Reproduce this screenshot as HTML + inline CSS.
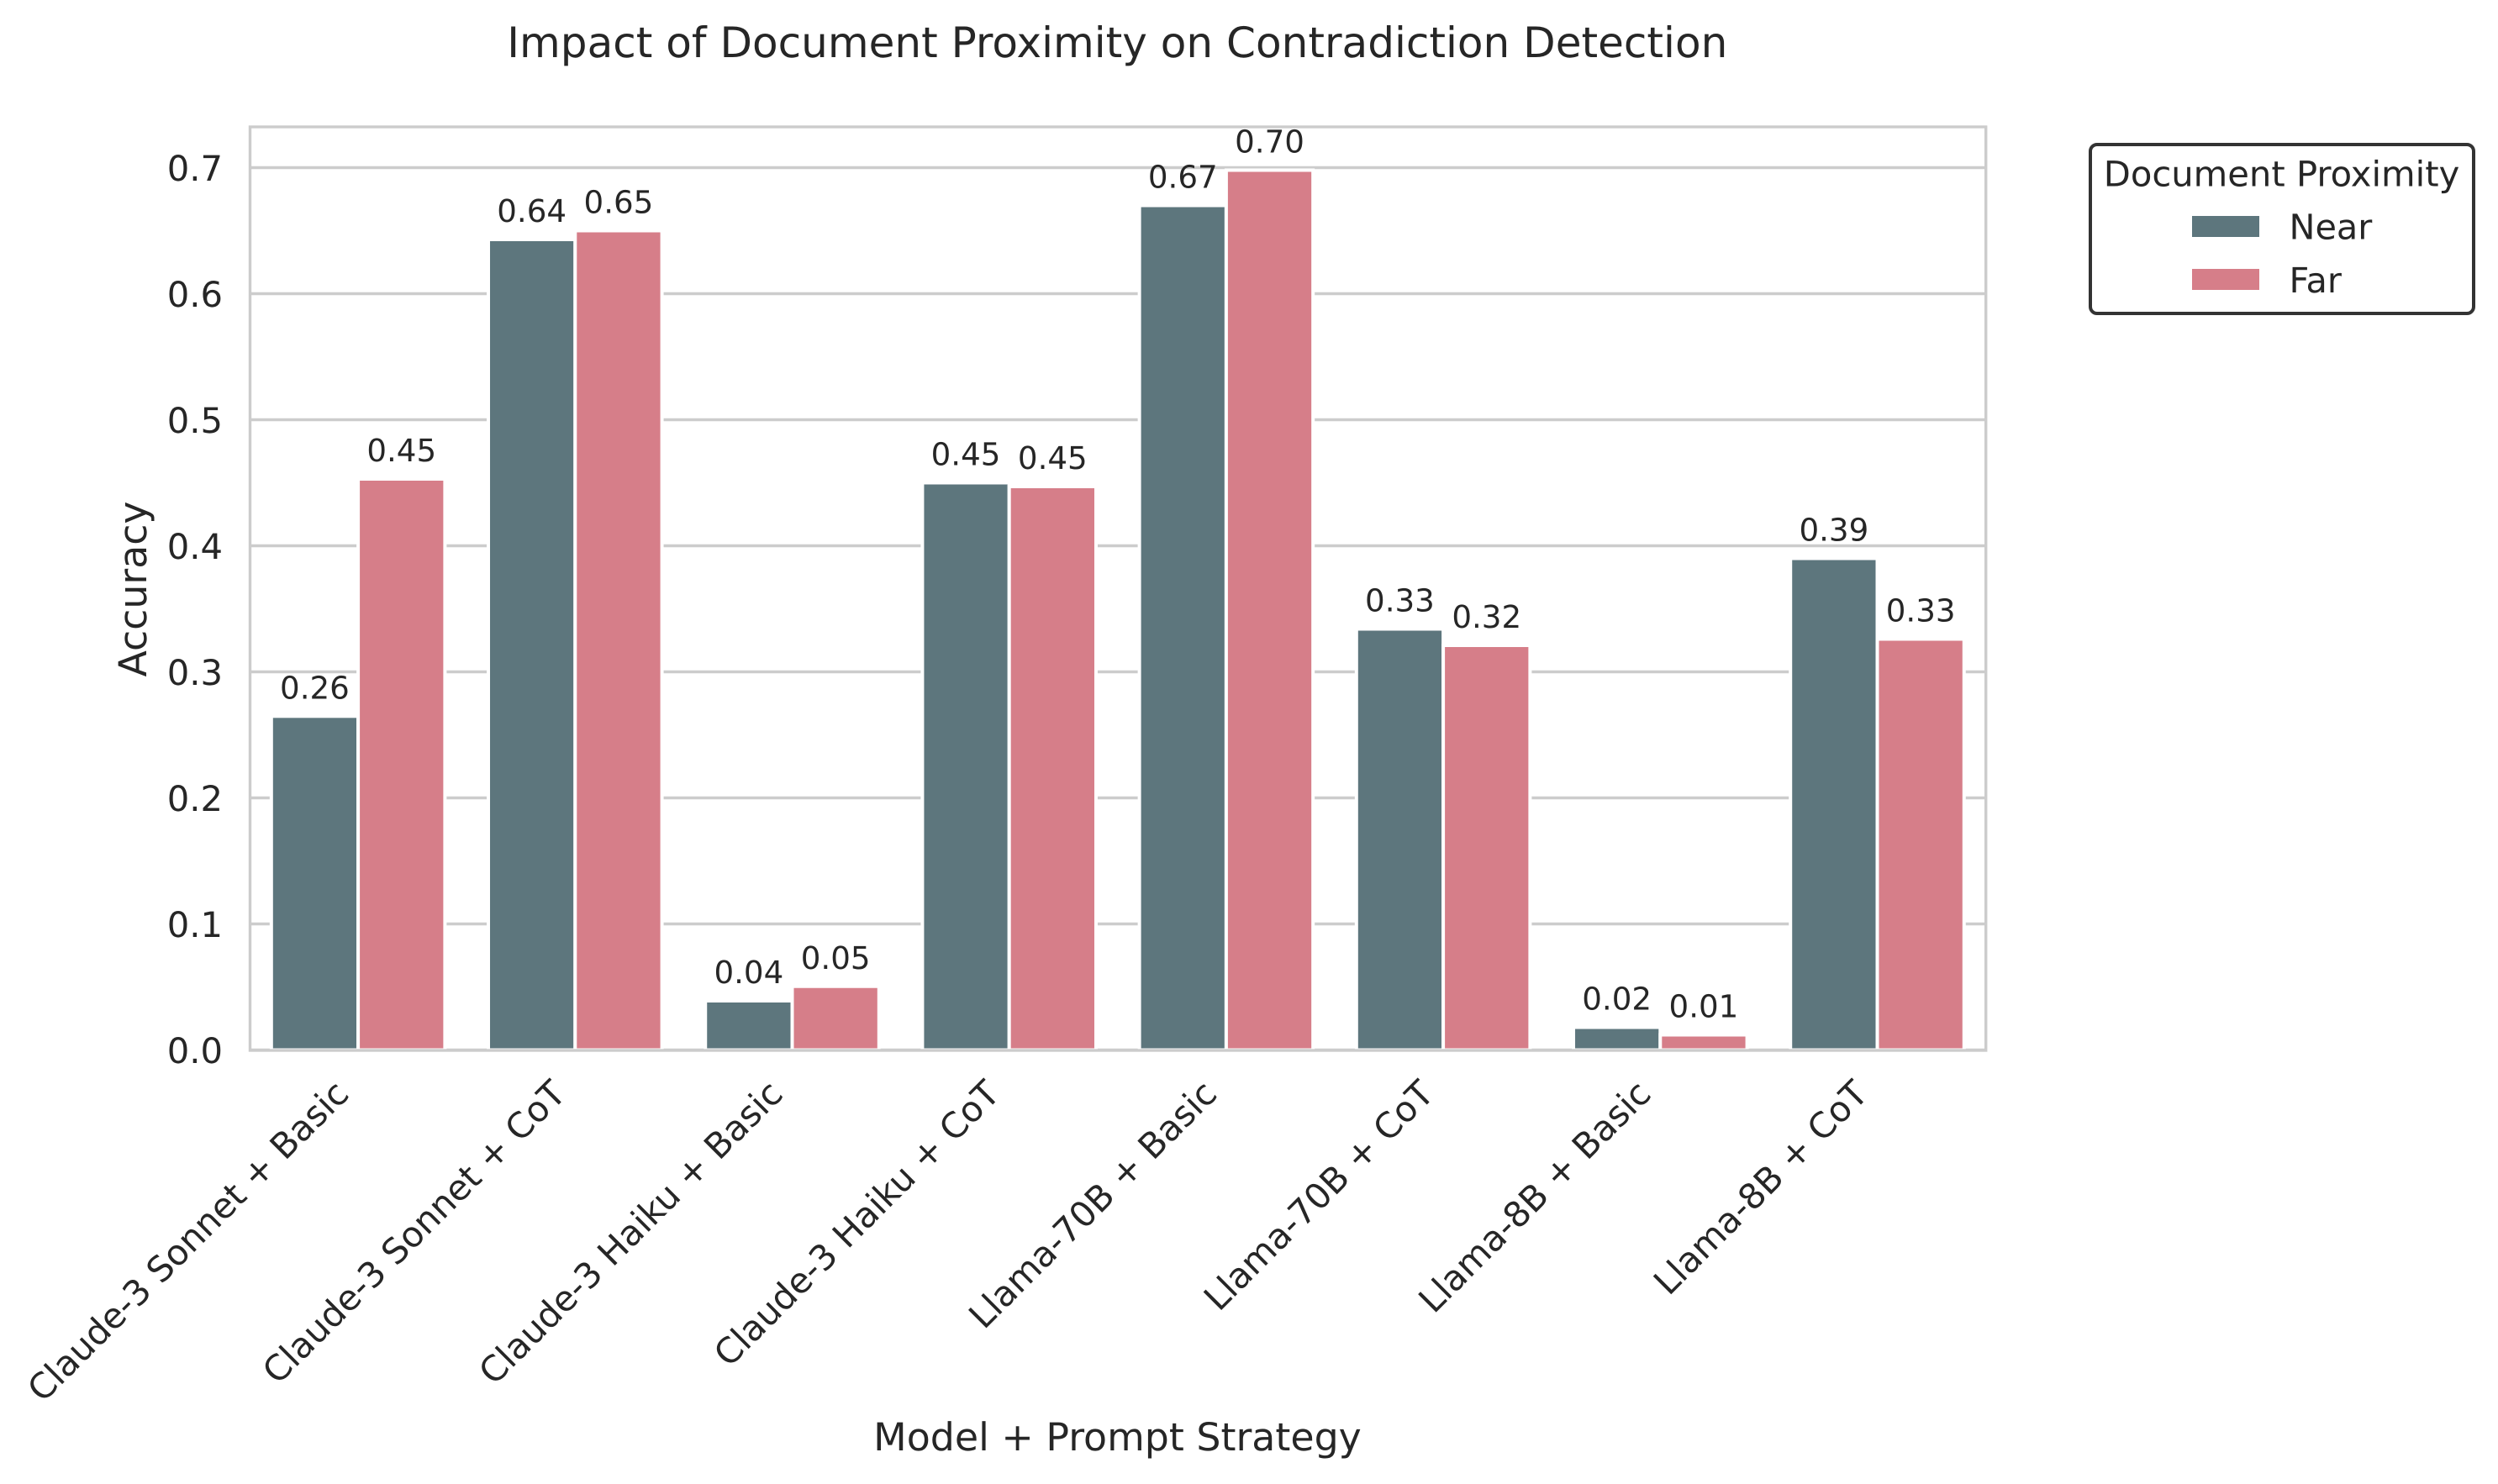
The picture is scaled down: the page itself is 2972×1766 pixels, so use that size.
<!DOCTYPE html>
<html lang="en">
<head>
<meta charset="utf-8">
<title>Impact of Document Proximity on Contradiction Detection</title>
<style>
  html, body { margin: 0; padding: 0; background: #ffffff; }
  svg { display: block; }
  text { font-family: "DejaVu Sans", "Liberation Sans", sans-serif; fill: #262626; text-rendering: geometricPrecision; }
</style>
</head>
<body>
<svg id="chart" xmlns="http://www.w3.org/2000/svg" width="2972" height="1766" viewBox="0 0 2972 1766">
  <rect x="0" y="0" width="2972" height="1766" fill="#ffffff"/>
  <text x="1329.3" y="68" text-anchor="middle" font-size="50.05">Impact of Document Proximity on Contradiction Detection</text>
  <g id="grid"></g>
  <g id="bars"></g>
  <rect x="297.5" y="151" width="2065.2" height="1099" fill="none" stroke="#cccccc" stroke-width="3.4"/>
  <g id="values"></g>
  <g id="yticks"></g>
  <g id="xticks"></g>
  <text x="1329.5" y="1726" text-anchor="middle" font-size="45.85">Model + Prompt Strategy</text>
  <text transform="translate(174 701) rotate(-90)" text-anchor="middle" font-size="45.8">Accuracy</text>
  <g>
    <rect x="2487" y="172" width="456" height="201" rx="8" ry="8" fill="#ffffff" stroke="#333333" stroke-width="4"/>
    <text x="2714.5" y="221.5" text-anchor="middle" font-size="41.7">Document Proximity</text>
    <rect x="2608" y="257" width="80" height="25" fill="#5d767d"/>
    <text x="2723.5" y="284.5" font-size="41.4">Near</text>
    <rect x="2608" y="320" width="80" height="25" fill="#d67e89"/>
    <text x="2723.5" y="348" font-size="41.4">Far</text>
  </g>
</svg>
<script>
const categories = ["Claude-3 Sonnet + Basic", "Claude-3 Sonnet + CoT", "Claude-3 Haiku + Basic", "Claude-3 Haiku + CoT", "Llama-70B + Basic", "Llama-70B + CoT", "Llama-8B + Basic", "Llama-8B + CoT"];
const nearValues = [0.2648, 0.643, 0.039, 0.45, 0.67, 0.334, 0.018, 0.39];
const farValues = [0.453, 0.65, 0.0505, 0.447, 0.698, 0.321, 0.012, 0.326];
const yTicks = [0, 0.1, 0.2, 0.3, 0.4, 0.5, 0.6, 0.7];
const yTickLabels = ["0.0", "0.1", "0.2", "0.3", "0.4", "0.5", "0.6", "0.7"];

const NS = "http://www.w3.org/2000/svg";
const plotLeft = 297, plotRight = 2362.6, plotBottom = 1249.5, pxPerUnit = 1500;
const catStep = (plotRight - plotLeft) / categories.length;
const barWidth = catStep * 0.4;

function xCenter(i) { return plotLeft + catStep * (i + 0.5); }
function yScale(v) { return plotBottom - v * pxPerUnit; }

function make(tag, attrs, parent, content) {
  const el = document.createElementNS(NS, tag);
  for (const k in attrs) el.setAttribute(k, attrs[k]);
  if (content !== undefined) el.textContent = content;
  parent.appendChild(el);
  return el;
}

const gridG = document.getElementById("grid");
const yTickG = document.getElementById("yticks");
yTicks.forEach(function (t, i) {
  const line = make("line", { x1: plotLeft, x2: plotRight, y1: yScale(t), y2: yScale(t), stroke: "#cccccc", "stroke-width": 3.4 }, gridG);
  
  
  const label = make("text", { x: 265, y: yScale(t) + 15.5, "text-anchor": "end", "font-size": 41.7 }, yTickG, yTickLabels[i]);
  
  
});

const barsG = document.getElementById("bars");
const valuesG = document.getElementById("values");
function drawSeries(values, offset, color, seriesName) {
  values.forEach(function (v, i) {
    const left = xCenter(i) + offset * barWidth;
    const bar = make("rect", { x: left, y: yScale(v), width: barWidth, height: plotBottom - yScale(v), fill: color, stroke: "#ffffff", "stroke-width": 4 }, barsG);
    
    
    const label = make("text", { x: left + barWidth / 2, y: yScale(v) - 21, "text-anchor": "middle", "font-size": 37.2 }, valuesG, v.toFixed(2));
    
    
  });
}
drawSeries(nearValues, -1, "#5d767d", "near");
drawSeries(farValues, 0, "#d67e89", "far");

const xTickG = document.getElementById("xticks");
categories.forEach(function (c, i) {
  const label = make("text", { transform: "translate(" + (xCenter(i) - 9) + " 1304) rotate(-45)", "text-anchor": "end", "font-size": 41.7 }, xTickG, c);
  
  
});
</script>
</body>
</html>
